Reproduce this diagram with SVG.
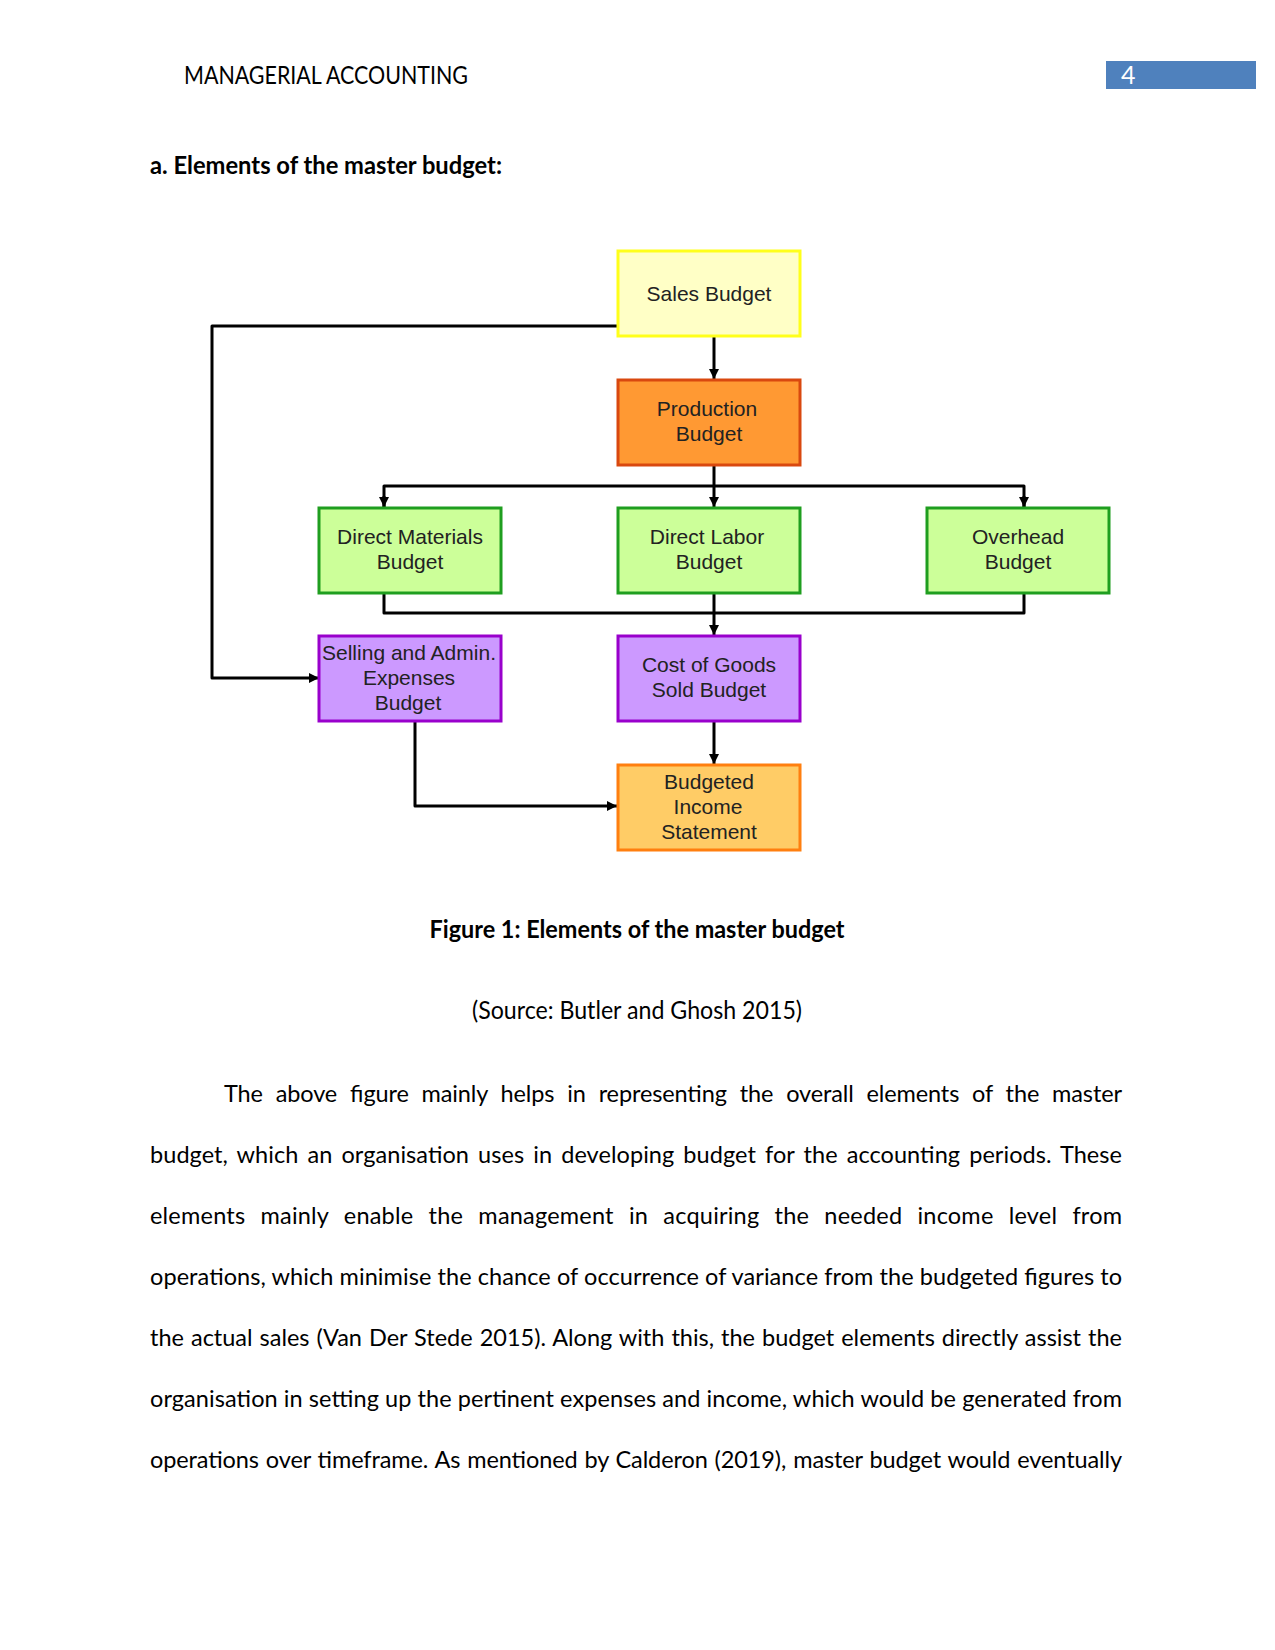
<svg xmlns="http://www.w3.org/2000/svg" width="1275" height="1650" viewBox="0 0 1275 1650">
<style>
.doc{font-family:Lato,"Liberation Sans",sans-serif;font-size:25px;fill:#000}
.b{font-weight:bold}
#body text{font-size:23.5px}
.box text{font-family:"Liberation Sans",Arial,sans-serif;font-size:21px;fill:#222;text-anchor:middle}
.box rect{stroke-width:3}
.yel rect{fill:#ffffc6;stroke:#ffff1a}
.ora rect{fill:#ff9933;stroke:#d9480f}
.grn rect{fill:#ccff99;stroke:#1f9e1f}
.pur rect{fill:#cc99ff;stroke:#9900cc}
.inc rect{fill:#ffcc66;stroke:#ff7f0f}
.con{fill:none;stroke:#000;stroke-width:3;stroke-linejoin:round}
</style>
<defs>
<marker id="ah" viewBox="0 0 10 10" refX="10" refY="5" markerWidth="10" markerHeight="10" markerUnits="userSpaceOnUse" orient="auto">
<path d="M0,0 L10,5 L0,10 z" fill="#000"/>
</marker>
</defs>
<rect width="1275" height="1650" fill="#fff"/>
<g id="header">
<text class="doc" x="184" y="84" textLength="284" lengthAdjust="spacingAndGlyphs">MANAGERIAL ACCOUNTING</text>
<rect x="1106" y="61" width="150" height="28" fill="#4f81bd"/>
<text class="doc" x="1121" y="84" style="fill:#fff">4</text>
</g>
<text class="doc b" x="150" y="174" textLength="352" lengthAdjust="spacingAndGlyphs">a. Elements of the master budget:</text>
<g id="connectors">
<path class="con" d="M714,337 V379" marker-end="url(#ah)"/>
<path class="con" d="M714,465 V507" marker-end="url(#ah)"/>
<path class="con" d="M384,507 V486 H1024 V507"/>
<path class="con" d="M384,496 V507" marker-end="url(#ah)"/>
<path class="con" d="M1024,496 V507" marker-end="url(#ah)"/>
<path class="con" d="M384,593 V613 H1024 V593"/>
<path class="con" d="M714,593 V635" marker-end="url(#ah)"/>
<path class="con" d="M617,326 H212 V678 H319" marker-end="url(#ah)"/>
<path class="con" d="M415,722 V806 H617" marker-end="url(#ah)"/>
<path class="con" d="M714,722 V764" marker-end="url(#ah)"/>
</g>
<g id="sales" class="box yel"><rect x="618" y="251" width="182" height="85"/><text x="709" y="301">Sales Budget</text></g>
<g id="production" class="box ora"><rect x="618" y="380" width="182" height="85"/><text x="707" y="416">Production</text><text x="709" y="441">Budget</text></g>
<g id="direct-materials" class="box grn"><rect x="319" y="508" width="182" height="85"/><text x="410" y="544">Direct Materials</text><text x="410" y="569">Budget</text></g>
<g id="direct-labor" class="box grn"><rect x="618" y="508" width="182" height="85"/><text x="707" y="544">Direct Labor</text><text x="709" y="569">Budget</text></g>
<g id="overhead" class="box grn"><rect x="927" y="508" width="182" height="85"/><text x="1018" y="544">Overhead</text><text x="1018" y="569">Budget</text></g>
<g id="selling-admin" class="box pur"><rect x="319" y="636" width="182" height="85"/><text x="409" y="660">Selling and Admin.</text><text x="409" y="685">Expenses</text><text x="408" y="710">Budget</text></g>
<g id="cogs" class="box pur"><rect x="618" y="636" width="182" height="85"/><text x="709" y="672">Cost of Goods</text><text x="709" y="697">Sold Budget</text></g>
<g id="income" class="box inc"><rect x="618" y="765" width="182" height="85"/><text x="709" y="789">Budgeted</text><text x="708" y="814">Income</text><text x="709" y="839">Statement</text></g>
<text class="doc b" x="637" y="938" text-anchor="middle" textLength="415" lengthAdjust="spacingAndGlyphs">Figure 1: Elements of the master budget</text>
<text class="doc" x="637" y="1019" text-anchor="middle" textLength="330" lengthAdjust="spacingAndGlyphs">(Source: Butler and Ghosh 2015)</text>
<g id="body" class="doc">
<text x="224" y="1102" textLength="898" lengthAdjust="spacing" word-spacing="7">The above figure mainly helps in representing the overall elements of the master</text>
<text x="150" y="1163" textLength="972" lengthAdjust="spacing" word-spacing="3">budget, which an organisation uses in developing budget for the accounting periods. These</text>
<text x="150" y="1224" textLength="972" lengthAdjust="spacing" word-spacing="9">elements mainly enable the management in acquiring the needed income level from</text>
<text x="150" y="1285" textLength="972" lengthAdjust="spacing">operations, which minimise the chance of occurrence of variance from the budgeted figures to</text>
<text x="150" y="1346" textLength="972" lengthAdjust="spacing" word-spacing="1">the actual sales (Van Der Stede 2015). Along with this, the budget elements directly assist the</text>
<text x="150" y="1407" textLength="972" lengthAdjust="spacing">organisation in setting up the pertinent expenses and income, which would be generated from</text>
<text x="150" y="1468" textLength="972" lengthAdjust="spacing" word-spacing="1">operations over timeframe. As mentioned by Calderon (2019), master budget would eventually</text>
</g>
</svg>
